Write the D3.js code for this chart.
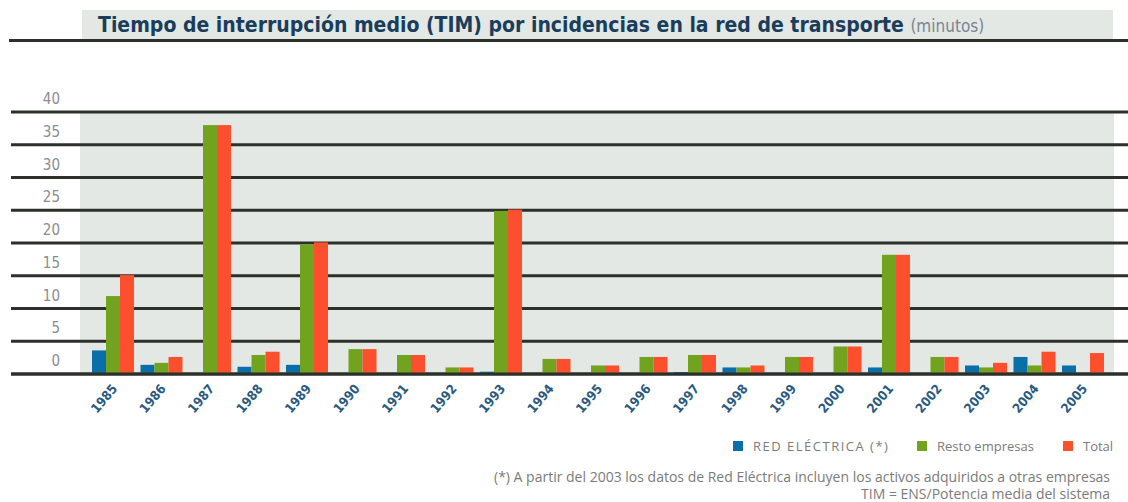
<!DOCTYPE html>
<html>
<head>
<meta charset="utf-8">
<script src="https://cdn.jsdelivr.net/npm/d3@7"></script>
<style>
  body { margin: 0; background: #fff; }
  svg { display: block; }
</style>
</head>
<body>
<div id="chart"></div>
<script>
let w = 1128;
let h = 502;

// data (minutes)
let years = ["1985","1986","1987","1988","1989","1990","1991","1992","1993","1994","1995",
             "1996","1997","1998","1999","2000","2001","2002","2003","2004","2005"];
let redElectrica = [3.6, 1.4, 0, 1.1, 1.4, 0, 0, 0, 0.35, 0, 0, 0, 0.3, 1.0, 0, 0, 1.0, 0, 1.3, 2.6, 1.3];
let restoEmpresas = [11.9, 1.7, 38.0, 2.9, 19.8, 3.8, 2.9, 1.0, 24.9, 2.3, 1.3, 2.6, 2.9, 1.0, 2.6, 4.2, 18.2, 2.6, 1.0, 1.3, 0];
let total = [15.1, 2.6, 38.0, 3.4, 20.1, 3.8, 2.9, 1.0, 25.1, 2.3, 1.3, 2.6, 2.9, 1.3, 2.6, 4.2, 18.2, 2.6, 1.7, 3.4, 3.2];
let yTicks = [0, 5, 10, 15, 20, 25, 30, 35, 40];

let seriesNames = ["RED ELÉCTRICA (*)", "Resto empresas", "Total"];
let seriesColors = ["#0a6ea8", "#71a31e", "#fb4f2e"];

let viz = d3.select("#chart")
  .append("svg")
    .attr("width", w)
    .attr("height", h)
;

///////////////////////////////////////////////////////////////////
// TITLE
viz.append("rect")
  .attr("x", 82).attr("y", 10)
  .attr("width", 1031).attr("height", 30)
  .attr("fill", "#e3e8e4");

viz.append("rect")
  .attr("x", 9).attr("y", 39)
  .attr("width", w - 9).attr("height", 3)
  .attr("fill", "#2b302b");

let title = viz.append("text")
  .attr("x", 98)
  .attr("y", 32)
  .attr("font-family", "'DejaVu Sans Condensed', 'DejaVu Sans', sans-serif")
  .attr("font-weight", "bold")
  .attr("font-size", 21)
  .attr("fill", "#1b3d5c");
title.append("tspan").text("Tiempo de interrupción medio (TIM) por incidencias en la red de transporte ");
title.append("tspan")
  .attr("font-weight", "normal")
  .attr("font-size", 17)
  .attr("fill", "#7a8692")
  .text("(minutos)");

///////////////////////////////////////////////////////////////////
// SCALES
let y = d3.scaleLinear().domain([0, 40]).range([374, 112]);

let x = d3.scaleBand()
  .domain(years)
  .range([88.75, 1107.25])
  .paddingInner(0.134)
  .paddingOuter(0.067);

let xSub = d3.scaleBand()
  .domain([0, 1, 2])
  .range([0, x.bandwidth()]);

// plot background
viz.append("rect")
  .attr("x", 80).attr("y", y(40))
  .attr("width", 1114 - 80).attr("height", y(0) - y(40))
  .attr("fill", "#e3e8e4");

// gridlines
viz.selectAll(".grid").data(yTicks)
  .enter()
    .append("line")
    .attr("class", "grid")
    .attr("x1", 11)
    .attr("x2", w)
    .attr("y1", d => y(d))
    .attr("y2", d => y(d))
    .attr("stroke", "#2b302b")
    .attr("stroke-width", 3)
;

// y labels sit above their line
viz.selectAll(".ylabel").data(yTicks)
  .enter()
    .append("text")
    .attr("class", "ylabel")
    .attr("x", 60)
    .attr("y", d => y(d) - 8)
    .attr("text-anchor", "end")
    .attr("font-family", "'DejaVu Sans Condensed', sans-serif")
    .attr("font-size", 15)
    .attr("fill", "#8a8c8e")
    .text(d => d)
;

///////////////////////////////////////////////////////////////////
// BARS
let rows = years.map(function (yr, i) {
  return { year: yr, values: [redElectrica[i], restoEmpresas[i], total[i]] };
});

let groups = viz.selectAll(".yeargroup").data(rows)
  .enter()
    .append("g")
    .attr("class", "yeargroup")
    .attr("transform", d => "translate(" + x(d.year) + ",0)")
;

groups.selectAll("rect")
  .data(d => d.values.map((v, k) => ({ k: k, v: v })))
  .enter()
    .append("rect")
    .attr("x", d => xSub(d.k))
    .attr("width", xSub.bandwidth())
    .attr("y", d => y(d.v))
    .attr("height", d => y(0) - y(d.v))
    .attr("fill", d => seriesColors[d.k])
;

// redraw the baseline over the bars
viz.append("line")
  .attr("x1", 11).attr("x2", w)
  .attr("y1", y(0)).attr("y2", y(0))
  .attr("stroke", "#2b302b")
  .attr("stroke-width", 3);

// year labels
viz.selectAll(".xlabel").data(years)
  .enter()
    .append("text")
    .attr("class", "xlabel")
    .attr("transform", d => "translate(" + (x(d) + x.bandwidth() / 2 + 5) + ",389) rotate(-50)")
    .attr("text-anchor", "end")
    .attr("font-family", "'DejaVu Sans Condensed', sans-serif")
    .attr("font-weight", "bold")
    .attr("font-size", 13)
    .attr("fill", "#2a5a80")
    .text(d => d)
;

///////////////////////////////////////////////////////////////////
// LEGEND
let legendX = [733, 917, 1063];
let legend = viz.selectAll(".legend").data(seriesNames)
  .enter()
    .append("g")
    .attr("class", "legend")
    .attr("transform", (d, i) => "translate(" + legendX[i] + ",441)")
;
legend.append("rect")
  .attr("width", 10).attr("height", 10)
  .attr("fill", (d, i) => seriesColors[i]);
legend.append("text")
  .attr("x", 20).attr("y", 10)
  .attr("font-family", "'Open Sans', sans-serif")
  .attr("font-size", 13)
  .attr("letter-spacing", (d, i) => i == 0 ? 1.5 : 0)
  .attr("fill", "#7b7b7b")
  .text(d => d);

// footnotes
let notes = ["(*) A partir del 2003 los datos de Red Eléctrica incluyen los activos adquiridos a otras empresas",
             "TIM = ENS/Potencia media del sistema"];
viz.selectAll(".note").data(notes)
  .enter()
    .append("text")
    .attr("class", "note")
    .attr("x", 1110)
    .attr("y", (d, i) => 482 + i * 17)
    .attr("text-anchor", "end")
    .attr("font-family", "'Open Sans', sans-serif")
    .attr("font-size", 14)
    .attr("fill", "#7b7b7b")
    .text(d => d)
;
</script>
</body>
</html>
